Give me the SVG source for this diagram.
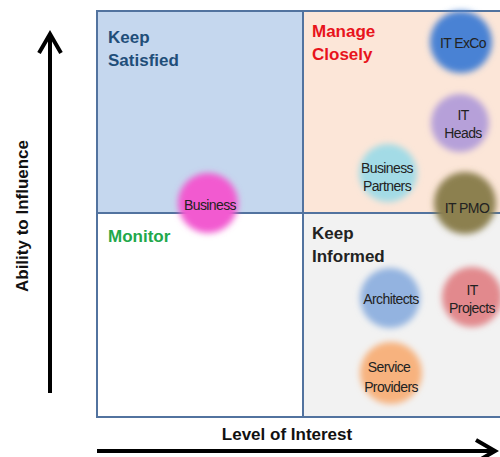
<svg xmlns="http://www.w3.org/2000/svg" width="500" height="457" viewBox="0 0 500 457">
<style>
.q{font-family:"Liberation Sans",Arial,sans-serif;font-weight:bold;font-size:17px}
.ax{font-family:"Liberation Sans",Arial,sans-serif;font-weight:bold;font-size:17px;fill:#111}
.lb{font-family:"Liberation Sans",Arial,sans-serif;font-size:14px;letter-spacing:-0.6px;fill:#222;text-anchor:middle}
.grid{fill:none;stroke:#52739f;stroke-width:2}
.axis{stroke:#000;stroke-width:4;fill:none}
</style>
<defs>
<filter id="blur" x="-30%" y="-30%" width="160%" height="160%"><feGaussianBlur stdDeviation="3"/></filter>
<marker id="ah" viewBox="-24 -14 28 28" refX="0" refY="0" markerWidth="28" markerHeight="28" orient="auto" markerUnits="userSpaceOnUse"><path d="M-19,-11 L0,0 L-19,11" fill="none" stroke="#000" stroke-width="4"/></marker>
</defs>
<rect width="500" height="457" fill="#fff"/>
<g id="quadrants">
<rect x="97" y="11" width="206" height="202" fill="#c5d7ee"/>
<rect x="303" y="11" width="200" height="202" fill="#fce6d8"/>
<rect x="97" y="213" width="206" height="204" fill="#fff"/>
<rect x="303" y="213" width="200" height="204" fill="#f2f2f2"/>
<rect class="grid" x="97" y="11" width="410" height="406"/>
<line class="grid" x1="303" y1="11" x2="303" y2="417"/>
<line class="grid" x1="97" y1="213" x2="503" y2="213"/>
</g>
<g id="connectors">
<line class="axis" x1="50" y1="393" x2="50" y2="34" marker-end="url(#ah)"/>
<line class="axis" x1="97" y1="451" x2="495" y2="451" marker-end="url(#ah)"/>
</g>
<g id="labels">
<text class="q" fill="#1f4e79" x="108" y="43">Keep</text>
<text class="q" fill="#1f4e79" x="108" y="66">Satisfied</text>
<text class="q" fill="#e8141c" x="312" y="37">Manage</text>
<text class="q" fill="#e8141c" x="312" y="60">Closely</text>
<text class="q" fill="#21a84a" x="108" y="242">Monitor</text>
<text class="q" fill="#222" x="312" y="239">Keep</text>
<text class="q" fill="#222" x="312" y="262">Informed</text>
<text class="ax" x="287" y="440" text-anchor="middle">Level of Interest</text>
<text class="ax" transform="translate(28,216) rotate(-90)" text-anchor="middle">Ability to Influence</text>
</g>
<g id="business"><circle cx="208" cy="203" r="30" fill="#f25ad0" filter="url(#blur)"/><text class="lb" x="210" y="210">Business</text></g>
<g id="itexco"><circle cx="461" cy="42" r="31" fill="#4a82d4" filter="url(#blur)"/><text class="lb" x="463" y="48">IT ExCo</text></g>
<g id="itheads"><circle cx="460" cy="123" r="29" fill="#b6a0d9" filter="url(#blur)"/><text class="lb" x="463" y="120">IT</text><text class="lb" x="463" y="138">Heads</text></g>
<g id="bizpartners"><circle cx="388" cy="173" r="29" fill="#a3dbe6" filter="url(#blur)"/><text class="lb" x="387" y="173">Business</text><text class="lb" x="387" y="191">Partners</text></g>
<g id="itpmo"><circle cx="465" cy="203" r="31" fill="#8c8050" filter="url(#blur)"/><text class="lb" x="467" y="213">IT PMO</text></g>
<g id="architects"><circle cx="390" cy="298" r="30" fill="#93b3e0" filter="url(#blur)"/><text class="lb" x="391" y="304">Architects</text></g>
<g id="itprojects"><circle cx="472" cy="297" r="30" fill="#e2898d" filter="url(#blur)"/><text class="lb" x="472" y="295">IT</text><text class="lb" x="472" y="313">Projects</text></g>
<g id="serviceproviders"><circle cx="391" cy="373" r="31" fill="#f7b27e" filter="url(#blur)"/><text class="lb" x="389" y="372">Service</text><text class="lb" x="391" y="392">Providers</text></g>
</svg>
